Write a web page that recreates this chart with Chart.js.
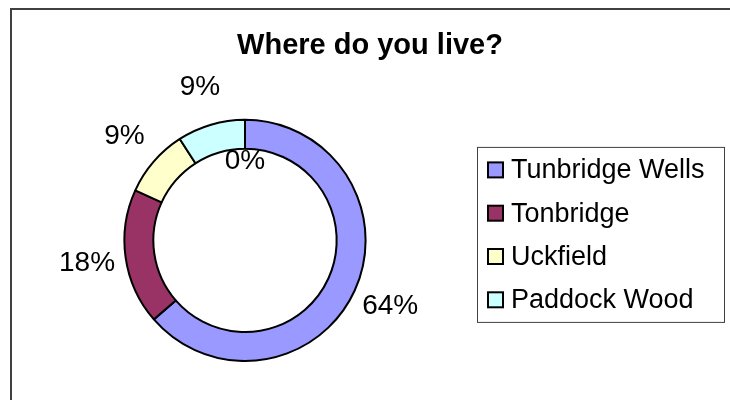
<!DOCTYPE html>
<html lang="en">
    <head>
        <meta charset="UTF-8">
        <meta name="viewport" content="width=device-width, initial-scale=1.0">
        <title>Where do you live?</title>
        <script src="https://cdn.jsdelivr.net/npm/chart.js"></script>
        <style>
            html, body { margin: 0; overflow: hidden; background: #fff; }
            .frame {
                position: absolute;
                left: 10px;
                top: 8px;
                width: 760px;
                height: 440px;
                border: 2px solid #404040;
            }
            .chart-container {
                position: relative;
                width: 730px;
                height: 400px;
            }
        </style>
    </head>
    <body>
        <div class="frame"></div>
        <div class="chart-container">
            <canvas id="liveChart"></canvas>
        </div>

        <script>
            const places = ['Tunbridge Wells', 'Tonbridge', 'Uckfield', 'Paddock Wood', ''];
            const answers = [7, 2, 1, 1, 0];
            const sliceColors = ['#9999FF', '#993366', '#FFFFCC', '#CCFFFF', '#FFFFFF'];

            const FONT = '"Liberation Sans", Arial, sans-serif';
            const total = answers.reduce((a, b) => a + b, 0);

            // boxed legend on the right, added as a layout box so the title stays full width
            const boxLegend = {
                id: 'boxLegend',
                start(chart) {
                    const box = {
                        position: 'right',
                        weight: 0,
                        fullSize: false,
                        options: {},
                        left: 0, top: 0, right: 0, bottom: 0, width: 0, height: 0,
                        isHorizontal() { return false; },
                        update(maxWidth, maxHeight) {
                            this.width = 250;
                            this.height = maxHeight;
                        },
                        draw() {
                            const ctx = chart.ctx;
                            const cy = (this.top + this.bottom) / 2 - 6;
                            const left = this.left - 3;
                            const top = cy - 87.5;
                            ctx.save();
                            ctx.strokeStyle = '#404040';
                            ctx.lineWidth = 1;
                            ctx.strokeRect(left + 0.5, top + 0.5, 247, 175);

                            ctx.font = '27px ' + FONT;
                            ctx.textBaseline = 'middle';
                            ctx.textAlign = 'left';
                            let row = 0;
                            places.forEach((name, i) => {
                                if (!name) return;
                                const y = top + 23 + row * 43.3;
                                ctx.fillStyle = sliceColors[i];
                                ctx.fillRect(left + 11, y - 7.5, 15, 15);
                                ctx.strokeStyle = '#000';
                                ctx.lineWidth = 2;
                                ctx.strokeRect(left + 11, y - 7.5, 15, 15);
                                ctx.fillStyle = '#000';
                                ctx.fillText(name, left + 34, y + 1);
                                row++;
                            });
                            ctx.restore();
                        }
                    };
                    Chart.layouts.addBox(chart, box);
                }
            };

            // percentage labels just outside each slice (zero slices sit inside the ring)
            const sliceLabels = {
                id: 'sliceLabels',
                afterDatasetsDraw(chart) {
                    const ctx = chart.ctx;
                    const meta = chart.getDatasetMeta(0);
                    ctx.save();
                    ctx.font = '28px ' + FONT;
                    ctx.fillStyle = '#000';
                    ctx.textAlign = 'center';
                    ctx.textBaseline = 'middle';
                    meta.data.forEach((arc, i) => {
                        const p = arc.getProps(['x', 'y', 'startAngle', 'endAngle', 'innerRadius', 'outerRadius'], true);
                        const mid = (p.startAngle + p.endAngle) / 2;
                        const r = answers[i] === 0 ? p.innerRadius - 13 : p.outerRadius + 39;
                        const pct = Math.round(answers[i] / total * 100);
                        ctx.fillText(pct + '%', p.x + Math.cos(mid) * r, p.y + Math.sin(mid) * r);
                    });
                    ctx.restore();
                }
            };

            const ctx = document.getElementById('liveChart').getContext('2d');

            new Chart(ctx, {
                type: 'doughnut',
                data: {
                    labels: places,
                    datasets: [{
                        data: answers,
                        backgroundColor: sliceColors,
                        borderColor: '#000',
                        borderWidth: 2,
                        hoverOffset: 0
                    }]
                },
                options: {
                    responsive: true,
                    maintainAspectRatio: false,
                    animation: false,
                    cutout: '76%',
                    layout: {
                        padding: { left: 10, right: 0, top: 0, bottom: 38 }
                    },
                    plugins: {
                        legend: { display: false },
                        tooltip: { enabled: false },
                        title: {
                            display: true,
                            text: 'Where do you live?',
                            color: '#000',
                            font: { family: FONT, size: 29, weight: 'bold' },
                            padding: { top: 29, bottom: 55 }
                        }
                    }
                },
                plugins: [boxLegend, sliceLabels]
            });
        </script>
    </body>
</html>
